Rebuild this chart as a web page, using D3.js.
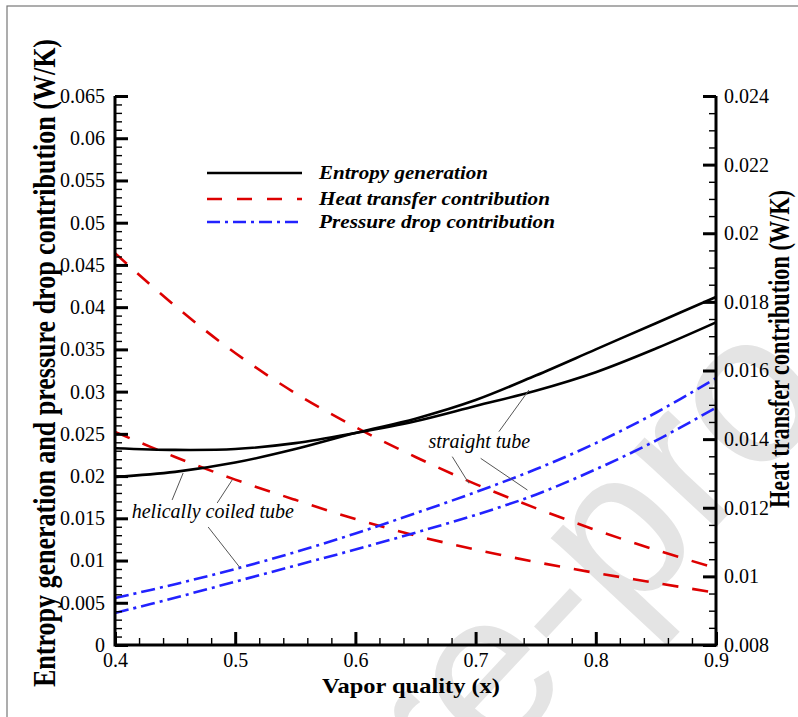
<!DOCTYPE html>
<html><head><meta charset="utf-8">
<script src="https://cdn.jsdelivr.net/npm/d3@7"></script>
<style>
body{margin:0;background:#fff;}
svg{display:block;}
text{font-family:"Liberation Serif","Times New Roman",serif;fill:#000;}
</style></head><body>
<svg id="chart" width="798" height="717"></svg>
<script>
// ---------------- data ----------------
const xValues          = [0.40, 0.45, 0.50, 0.55, 0.60, 0.65, 0.70, 0.75, 0.80, 0.85, 0.90];
// left axis (W/K)
const entropyStraight  = [0.0233, 0.0231, 0.0232, 0.0239, 0.0251, 0.0265, 0.0283, 0.0301, 0.0323, 0.0351, 0.0382];
const entropyHelical   = [0.0199, 0.0205, 0.0216, 0.0232, 0.0251, 0.0268, 0.0290, 0.0319, 0.0350, 0.0381, 0.0412];
const pressureStraight = [0.00379, 0.0056, 0.0075, 0.0094, 0.0113, 0.0133, 0.0154, 0.0178, 0.0208, 0.0242, 0.0281];
const pressureHelical  = [0.00556, 0.0072, 0.0090, 0.0110, 0.0132, 0.0156, 0.0181, 0.0208, 0.0239, 0.0275, 0.0316];
// right axis (W/K)
const heatStraight     = [0.01942, 0.01788, 0.01651, 0.01534, 0.01435, 0.01348, 0.01269, 0.01199, 0.01135, 0.01077, 0.01024];
const heatHelical      = [0.01421, 0.01348, 0.01282, 0.01223, 0.01167, 0.01119, 0.01078, 0.01042, 0.01010, 0.00981, 0.00952];

const xTicks     = [0.4, 0.5, 0.6, 0.7, 0.8, 0.9];
const leftTicks  = [0, 0.005, 0.01, 0.015, 0.02, 0.025, 0.03, 0.035, 0.04, 0.045, 0.05, 0.055, 0.06, 0.065];
const rightTicks = [0.008, 0.01, 0.012, 0.014, 0.016, 0.018, 0.02, 0.022, 0.024];
const legendLabels = ["Entropy generation", "Heat transfer contribution", "Pressure drop contribution"];
const xTitle = "Vapor quality (x)";
const leftTitle = "Entropy generation and pressure drop contribution (W/K)";
const rightTitle = "Heat transfer contribution (W/K)";

const SERIF = "Liberation Serif, Times New Roman, serif";

// ---------------- layout ----------------
const svg = d3.select("#chart");
const L = 115, R = 716, T = 96, B = 645;
const x  = d3.scaleLinear().domain([0.4, 0.9]).range([L, R]);
const yL = d3.scaleLinear().domain([0, 0.065]).range([B, T]);
const yR = d3.scaleLinear().domain([0.008, 0.024]).range([B, T]);

// page frame
svg.append("rect").attr("x", 7).attr("y", 6).attr("width", 820).attr("height", 740)
  .attr("fill", "none").attr("stroke", "#777").attr("stroke-width", 1.2);

// watermark (clipped to the page)
svg.append("clipPath").attr("id", "page").append("rect")
  .attr("x", 0).attr("y", 0).attr("width", 798).attr("height", 717);
svg.append("g").attr("clip-path", "url(#page)")
  .append("text").text("re-pro")
  .attr("transform", "translate(445,818) rotate(-47)")
  .attr("font-family", "Liberation Sans, Arial, sans-serif")
  .style("font-family", "Liberation Sans, Arial, sans-serif")
  .style("font-size", "215px").style("fill", "#e4e4e4");

// ---------------- series ----------------
const line = (ys, yS) => d3.line().x((d, i) => x(xValues[i])).y(d => yS(d)).curve(d3.curveCatmullRom.alpha(0.5))(ys);
const series = [
  {v: heatStraight, s: yR, c: "#dd0000", dash: "16,14"},
  {v: heatHelical, s: yR, c: "#dd0000", dash: "16,14"},
  {v: pressureStraight, s: yL, c: "#2222ff", dash: "14,5,3,5"},
  {v: pressureHelical, s: yL, c: "#2222ff", dash: "14,5,3,5"},
  {v: entropyStraight, s: yL, c: "#000", dash: null},
  {v: entropyHelical, s: yL, c: "#000", dash: null}
];
series.forEach(o => {
  svg.append("path").attr("d", line(o.v, o.s)).attr("fill", "none")
    .attr("stroke", o.c).attr("stroke-width", 2.6)
    .attr("stroke-dasharray", o.dash);
});

// ---------------- axes ----------------
const fmt = d => String(+d.toFixed(4));
const range = (a, b, s) => d3.range(Math.round((b - a) / s) + 1).map(i => +(a + i * s).toFixed(5));
const notIn = arr => v => !arr.some(t => Math.abs(t - v) < 1e-9);
const xMinor = range(0.4, 0.9, 0.02).filter(notIn(xTicks));
const lMinor = range(0, 0.065, 0.001).filter(notIn(leftTicks));
const rMinor = range(0.008, 0.024, 0.0005).filter(notIn(rightTicks));

function styleAxis(g, w) {
  g.attr("font-family", SERIF).attr("font-size", 20);
  g.select(".domain").remove();
  g.selectAll(".tick line").attr("stroke", "#000").attr("stroke-width", w);
  g.selectAll(".tick text").attr("font-family", SERIF).style("font-family", SERIF)
    .style("font-size", "20px").attr("fill", "#000");
}
// minor
svg.append("g").attr("transform", `translate(0,${B})`)
  .call(d3.axisBottom(x).tickValues(xMinor).tickSize(-7).tickFormat("")).call(g => styleAxis(g, 1.4));
svg.append("g").attr("transform", `translate(${L},0)`)
  .call(d3.axisLeft(yL).tickValues(lMinor).tickSize(-7).tickFormat("")).call(g => styleAxis(g, 1.4));
svg.append("g").attr("transform", `translate(${R},0)`)
  .call(d3.axisRight(yR).tickValues(rMinor).tickSize(-7).tickFormat("")).call(g => styleAxis(g, 1.4));
// major
svg.append("g").attr("transform", `translate(0,${B})`)
  .call(d3.axisBottom(x).tickValues(xTicks).tickSize(-13).tickPadding(9).tickFormat(fmt))
  .call(g => { styleAxis(g, 3); g.selectAll(".tick text").attr("y", 22).attr("dy", 0); });
svg.append("g").attr("transform", `translate(${L},0)`)
  .call(d3.axisLeft(yL).tickValues(leftTicks).tickSize(-13).tickPadding(10).tickFormat(fmt))
  .call(g => styleAxis(g, 3));
svg.append("g").attr("transform", `translate(${R},0)`)
  .call(d3.axisRight(yR).tickValues(rightTicks).tickSize(-13).tickPadding(8).tickFormat(fmt))
  .call(g => styleAxis(g, 3));
// axis lines
svg.append("path").attr("d", `M${L},${T}V${B}H${R}V${T}`).attr("fill", "none")
  .attr("stroke", "#000").attr("stroke-width", 3);

// ---------------- titles ----------------
svg.append("text").text(xTitle)
  .attr("x", 411).attr("y", 693).attr("text-anchor", "middle")
  .attr("textLength", 178).attr("lengthAdjust", "spacingAndGlyphs")
  .attr("font-family", SERIF)
  .style("font-size", "21px").style("font-weight", "bold");
svg.append("text").text(leftTitle)
  .attr("transform", "translate(55,363) rotate(-90) scale(1,1.25)")
  .attr("text-anchor", "middle")
  .attr("textLength", 648).attr("lengthAdjust", "spacingAndGlyphs")
  .attr("font-family", SERIF)
  .style("font-size", "26px").style("font-weight", "bold");
svg.append("text").text(rightTitle)
  .attr("transform", "translate(789,349) rotate(-90) scale(1,1.3)")
  .attr("text-anchor", "middle")
  .attr("textLength", 318).attr("lengthAdjust", "spacingAndGlyphs")
  .attr("font-family", SERIF)
  .style("font-size", "22px").style("font-weight", "bold");

// ---------------- legend ----------------
const legend = [
  {label: legendLabels[0], c: "#000", dash: null, ly: 173, ty: 179, w: 169},
  {label: legendLabels[1], c: "#dd0000", dash: "15,15", ly: 199, ty: 205, w: 231},
  {label: legendLabels[2], c: "#2222ff", dash: "13,5,3,5", ly: 222, ty: 228, w: 236}
];
legend.forEach(o => {
  svg.append("line").attr("x1", 207).attr("x2", 302).attr("y1", o.ly).attr("y2", o.ly)
    .attr("stroke", o.c).attr("stroke-width", 2.6).attr("stroke-dasharray", o.dash);
  svg.append("text").text(o.label).attr("x", 319).attr("y", o.ty)
    .attr("textLength", o.w).attr("lengthAdjust", "spacingAndGlyphs")
    .attr("font-family", SERIF)
    .style("font-size", "19px").style("font-weight", "bold").style("font-style", "italic");
});

// ---------------- annotations (data coordinates) ----------------
const annotations = [
  {text: "helically coiled tube", at: [0.4139, 0.01504],
   leaders: [[[0.4475, 0.01717, "L"], [0.4567, 0.02036, "L"]],
             [[0.4850, 0.01681, "L"], [0.4975, 0.01281, "R"]],
             [[0.4775, 0.01397, "L"], [0.5042, 0.00912, "L"]]]},
  {text: "straight tube", at: [0.6608, 0.02332],
   leaders: [[[0.7194, 0.02526, "L"], [0.7444, 0.03019, "L"]],
             [[0.6806, 0.02230, "L"], [0.6944, 0.01271, "R"]],
             [[0.7042, 0.02210, "L"], [0.7431, 0.01835, "L"]]]}
];
const py = p => (p[2] === "R" ? yR : yL)(p[1]);
annotations.forEach(a => {
  a.leaders.forEach(([p, q]) => {
    svg.append("line").attr("x1", x(p[0])).attr("y1", py(p)).attr("x2", x(q[0])).attr("y2", py(q))
      .attr("stroke", "#555").attr("stroke-width", 1);
  });
  svg.append("text").text(a.text).attr("x", x(a.at[0])).attr("y", yL(a.at[1]))
    .attr("font-family", SERIF)
    .style("font-size", "20px").style("font-style", "italic");
});
</script>
</body></html>
